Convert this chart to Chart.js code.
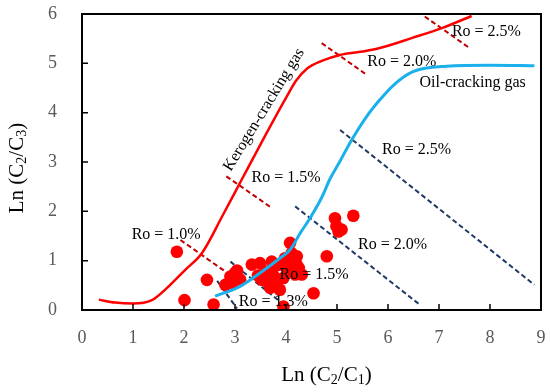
<!DOCTYPE html>
<html><head><meta charset="utf-8">
<script src="https://cdn.jsdelivr.net/npm/chart.js@4/dist/chart.umd.min.js"></script>
<style>html,body{margin:0;padding:0;background:#fff;}#wrap{width:550px;height:392px;}</style>
</head><body><div id="wrap"><canvas id="c" width="550" height="392"></canvas></div>
<script>
// ---- data ----
const xTickValues = [0,1,2,3,4,5,6,7,8,9];
const yTickValues = [0,1,2,3,4,5,6];

const kerogenCurve = [[0.33,0.21],[0.65,0.15],[1.0,0.13],[1.37,0.2],[1.7,0.48],[2.03,0.82],[2.35,1.15],[2.75,1.9],[3.13,2.64],[3.6,3.55],[4.0,4.3],[4.2,4.65],[4.42,4.9],[4.7,5.05],[5.06,5.17],[5.5,5.24],[5.84,5.31],[6.49,5.52],[7.07,5.72],[7.64,5.96]];
const oilCurve = [[2.61,0.28],[3.1,0.48],[3.49,0.75],[3.88,1.05],[4.08,1.22],[4.28,1.56],[4.47,1.86],[4.7,2.28],[4.86,2.65],[5.05,3.0],[5.29,3.45],[5.58,3.92],[5.84,4.26],[6.1,4.55],[6.49,4.83],[7.15,4.94],[8.0,4.96],[8.87,4.95]];

const kerogenRo10 = [[1.93,1.42],[2.81,0.78]];
const kerogenRo15 = [[2.83,2.71],[3.72,2.07]];
const kerogenRo20 = [[4.70,5.41],[5.58,4.77]];
const kerogenRo25 = [[6.72,5.95],[7.60,5.31]];
const oilRo13 = [[2.65,0.59],[3.04,0.03]];
const oilRo15 = [[2.91,0.98],[4.04,0.04]];
const oilRo20 = [[4.18,2.10],[6.62,0.11]];
const oilRo25 = [[5.06,3.65],[8.87,0.51]];

const samples = [[1.86,1.18],[2.01,0.20],[2.45,0.61],[2.58,0.11],[2.81,0.51],[2.91,0.68],[3.00,0.75],[3.04,0.80],[2.95,0.55],[3.10,0.62],[3.33,0.92],[3.49,0.95],[3.53,0.61],[3.45,0.70],[3.60,0.78],[3.72,0.98],[3.80,0.90],[3.88,0.92],[3.98,1.05],[4.08,1.36],[4.11,1.15],[4.21,1.09],[4.21,0.92],[4.18,0.72],[4.31,0.72],[4.25,0.85],[4.05,0.80],[3.95,0.65],[3.82,0.48],[3.88,0.41],[3.69,0.45],[3.95,0.07],[4.54,0.34],[4.80,1.09],[4.96,1.86],[4.99,1.70],[5.03,1.59],[5.09,1.63],[5.32,1.91],[4.00,0.95],[4.15,1.00],[3.75,0.70],[3.65,0.55]];

const noteTexts = ['Ro = 1.0%','Ro = 1.5%','Ro = 2.0%','Ro = 2.5%','Kerogen-cracking gas','Oil-cracking gas','Ro = 1.3%','Ro = 1.5%','Ro = 2.0%','Ro = 2.5%'];
const noteX = [1.65,4.00,6.27,7.93,3.57,7.66,3.75,4.55,6.09,6.56];
const noteY = [1.53,2.68,5.03,5.64,4.06,4.61,0.17,0.72,1.32,3.25];
const noteAngle = [0,0,0,0,-58.5,0,0,0,0,0];

const xTitle = ['Ln (C','2','/C','1',')'];
const yTitle = ['Ln (C','2','/C','3',')'];

// ---- helpers ----
const toPts = a => a.map(p => ({x:p[0], y:p[1]}));
const RED='#ff0000', DRED='#c00000', NAVY='#1f3864', BLUE='#1ab0ec';
const SERIF = "'Liberation Serif','Times New Roman',serif";

function dashed(data,color){
  return {data:toPts(data),showLine:true,borderColor:color,borderWidth:2,borderDash:[5,3],pointRadius:0,fill:false,order:5};
}

const decor = {
  id:'decor',
  afterDatasetsDraw(chart){
    const {ctx, scales:{x,y}} = chart;
    ctx.save();
    ctx.fillStyle='#000';
    ctx.font='16px '+SERIF;
    ctx.textAlign='center'; ctx.textBaseline='middle';
    noteTexts.forEach((t,i)=>{
      const px=x.getPixelForValue(noteX[i]), py=y.getPixelForValue(noteY[i]);
      ctx.save(); ctx.translate(px,py); ctx.rotate(noteAngle[i]*Math.PI/180);
      ctx.fillText(t,0,0); ctx.restore();
    });
    ctx.restore();
  },
  afterDraw(chart){
    const {ctx, chartArea:a, scales:{x,y}} = chart;
    ctx.save();
    ctx.strokeStyle='#000'; ctx.lineWidth=2;
    ctx.strokeRect(a.left,a.top,a.right-a.left,a.bottom-a.top);
    ctx.lineWidth=1.5;
    ctx.beginPath();
    xTickValues.slice(1,-1).forEach(v=>{const p=x.getPixelForValue(v);ctx.moveTo(p,a.bottom);ctx.lineTo(p,a.bottom-6);});
    yTickValues.slice(1,-1).forEach(v=>{const p=y.getPixelForValue(v);ctx.moveTo(a.left,p);ctx.lineTo(a.left+6,p);});
    ctx.stroke();
    function drawTitle(parts,cx,cy,rot){
      ctx.save(); ctx.translate(cx,cy); ctx.rotate(rot);
      const big='21px '+SERIF, small='14px '+SERIF;
      let w=0; parts.forEach((p,i)=>{ctx.font=(i%2?small:big); w+=ctx.measureText(p).width;});
      let cur=-w/2; ctx.textAlign='left'; ctx.textBaseline='middle'; ctx.fillStyle='#000';
      parts.forEach((p,i)=>{ctx.font=(i%2?small:big); ctx.fillText(p,cur,i%2?5:0); cur+=ctx.measureText(p).width;});
      ctx.restore();
    }
    drawTitle(xTitle,(a.left+a.right)/2+15,375,0);
    drawTitle(yTitle,17,(a.top+a.bottom)/2+6,-Math.PI/2);
    ctx.restore();
  }
};

new Chart(document.getElementById('c'),{
  type:'scatter',
  data:{datasets:[
    {data:toPts(oilCurve),showLine:true,borderColor:BLUE,borderWidth:3,pointRadius:0,cubicInterpolationMode:'monotone',order:1},
    {data:toPts(kerogenCurve),showLine:true,borderColor:RED,borderWidth:2.5,pointRadius:0,cubicInterpolationMode:'monotone',order:2},
    {data:toPts(samples),pointRadius:6.3,pointBackgroundColor:RED,pointBorderWidth:0,backgroundColor:RED,order:3},
    dashed(kerogenRo10,DRED),dashed(kerogenRo15,DRED),dashed(kerogenRo20,DRED),dashed(kerogenRo25,DRED),
    dashed(oilRo13,NAVY),dashed(oilRo15,NAVY),dashed(oilRo20,NAVY),dashed(oilRo25,NAVY)
  ]},
  options:{
    responsive:false,animation:false,devicePixelRatio:1,
    layout:{padding:{top:14,right:9,left:0,bottom:0}},
    plugins:{legend:{display:false},tooltip:{enabled:false}},
    scales:{
      x:{type:'linear',min:0,max:9,afterBuildTicks:s=>{s.ticks=xTickValues.map(v=>({value:v}));},
        grid:{display:false},border:{display:false},
        ticks:{color:'#595959',font:{family:SERIF,size:18},padding:9,maxRotation:0},
        afterFit:s=>{s.height=82;s.paddingLeft=0;s.paddingRight=0;s.paddingTop=0;s.paddingBottom=0;}},
      y:{type:'linear',min:0,max:6,afterBuildTicks:s=>{s.ticks=yTickValues.map(v=>({value:v}));},
        grid:{display:false},border:{display:false},
        ticks:{color:'#595959',font:{family:SERIF,size:18},padding:17},
        afterFit:s=>{s.width=82;s.paddingLeft=0;s.paddingRight=0;s.paddingTop=0;s.paddingBottom=0;}}
    }
  },
  plugins:[decor]
});
</script></body></html>
